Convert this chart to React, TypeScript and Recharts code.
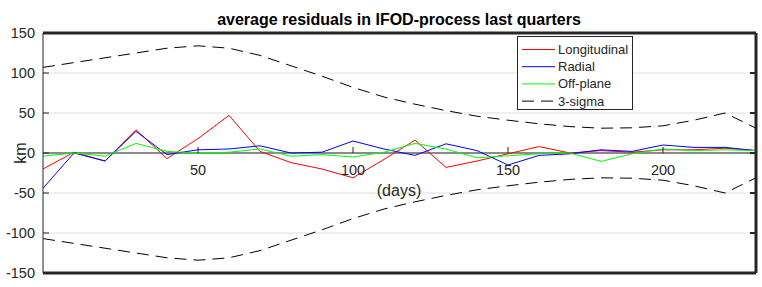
import { LineChart, Line, XAxis, YAxis, CartesianGrid, ReferenceLine, Legend } from 'recharts'

// values (km vs days)
const days = [0, 10, 20, 30, 40, 50, 60, 70, 80, 90, 100, 110, 120, 130, 140, 150, 160, 170, 180, 190, 200, 210, 220, 230]
const longitudinal = [-20, 1, -10, 29, -7, 18, 47, 2, -12, -20, -31, -8, 16, -18, -10, -1, 8, 0, 3, 1, 4, 4, 6, 3]
const radial = [-44, 0, -10, 27, -2, 4, 5, 9, 0, 1, 15, 5, -3, 11.5, 3, -15, -3, -1, 4, 2, 10, 7, 7, 3]
const offPlane = [-4, 0, -4, 12, 2, 0, 1, 5, -4, -2, -5, 1, 12, 5, -6, -3.5, -1, 0, -10.5, -1, 5, 3, 4, 3]
const sigmaUpper = [107, 113, 119, 125, 131, 134, 131, 122, 109, 96, 82, 70, 61, 53, 46, 41, 36.5, 33, 31, 31.5, 34, 41, 50, 31]
const sigmaLower = [-107, -113, -119, -125, -131, -134, -131, -122, -109, -96, -82, -70, -61, -53, -46, -41, -36.5, -33, -31, -31.5, -34, -41, -50, -31]

const yTicks = [-150, -100, -50, 0, 50, 100, 150]
const xTicks = [50, 100, 150, 200]
const xDomain = [0, 230]
const yDomain = [-150, 150]

const legendNames = ['Longitudinal', 'Radial', 'Off-plane', '3-sigma']
const legendColors = ['#ff0000', '#0000ff', '#00ff00', '#000']
const legendDashes = [undefined, undefined, undefined, '12 7']

const W = 762
const H = 287
const M = { top: 33, right: 5, bottom: 13, left: 0 }
const PLOT_H = 240
const AXIS = '#262626'
const FONT = '"Liberation Sans", Arial, Helvetica, sans-serif'

const data = days.map((d, i) => ({
  d,
  lon: longitudinal[i],
  rad: radial[i],
  off: offPlane[i],
  su: sigmaUpper[i],
  sl: sigmaLower[i],
}))

// x axis sits on y = 0 (matlab 'origin' style), so shift ticks up from the bottom edge
function ZeroAxisTick({ x, y, payload }: any) {
  const zy = y - PLOT_H / 2
  return (
    <g>
      <line x1={x} x2={x} y1={zy} y2={zy - 6} stroke={AXIS} />
      <text x={x} y={zy + 22} textAnchor="middle" fontSize={14.5} fill={AXIS}>
        {payload.value}
      </text>
    </g>
  )
}

const NoLabel = () => null

function LegendBox() {
  return (
    <svg width={116} height={74} style={{ display: 'block' }}>
      <rect x={0.5} y={0.5} width={115} height={73} fill="#fff" stroke={AXIS} />
      {legendNames.map((name, i) => {
        const cy = 13.5 + i * 17.2
        return (
          <g key={name}>
            <line x1={5} x2={38} y1={cy} y2={cy} stroke={legendColors[i]} strokeDasharray={legendDashes[i]} />
            <text x={41} y={cy + 4.5} fontSize={13} fill={AXIS}>{name}</text>
          </g>
        )
      })}
    </svg>
  )
}

export default function App() {
  return (
    <div style={{ position: 'absolute', left: 0, top: 0, width: W, height: H, fontFamily: FONT, background: '#fff' }}>
      <LineChart width={W} height={H} data={data} margin={M}>
        <CartesianGrid vertical={false} stroke="#dedede" />
        <XAxis
          dataKey="d"
          type="number"
          domain={xDomain}
          ticks={xTicks}
          height={1}
          tickSize={0}
          tickMargin={0}
          tickLine={false}
          axisLine={{ stroke: AXIS, strokeWidth: 3 }}
          tick={<ZeroAxisTick />}
          interval={0}
        />
        <YAxis
          domain={yDomain}
          ticks={yTicks}
          width={43}
          tickSize={-6}
          tickMargin={14}
          interval={0}
          axisLine={{ stroke: AXIS }}
          tickLine={{ stroke: AXIS }}
          tick={{ fontSize: 14.5, fill: AXIS }}
        />
        <YAxis
          yAxisId="r"
          orientation="right"
          domain={yDomain}
          ticks={yTicks}
          width={1}
          tickSize={-6}
          tick={<NoLabel />}
          interval={0}
          axisLine={{ stroke: AXIS, strokeWidth: 3 }}
          tickLine={{ stroke: AXIS, strokeWidth: 2 }}
        />
        <ReferenceLine y={0} stroke={AXIS} />
        <ReferenceLine y={150} stroke={AXIS} strokeWidth={3} ifOverflow="visible" />
        <Legend
          layout="vertical"
          align="center"
          verticalAlign="middle"
          content={<LegendBox />}
          wrapperStyle={{ left: 517, top: 36, width: 116, height: 74 }}
        />
        <Line name="Longitudinal" dataKey="lon" type="linear" stroke="#ff0000" strokeWidth={1} dot={false} isAnimationActive={false} />
        <Line name="Radial" dataKey="rad" type="linear" stroke="#0000ff" strokeWidth={1} dot={false} isAnimationActive={false} />
        <Line name="Off-plane" dataKey="off" type="linear" stroke="#00ff00" strokeWidth={1} dot={false} isAnimationActive={false} />
        <Line name="3-sigma" dataKey="su" type="linear" stroke="#000" strokeWidth={1} strokeDasharray="12 7" dot={false} isAnimationActive={false} />
        <Line name="3-sigma low" dataKey="sl" yAxisId="r" type="linear" stroke="#000" strokeWidth={1} strokeDasharray="12 7" dot={false} legendType="none" isAnimationActive={false} />
      </LineChart>
      <svg width={W} height={H} style={{ position: 'absolute', left: 0, top: 0, pointerEvents: 'none' }}>
        <text x={399} y={24.5} textAnchor="middle" fontSize={16} fontWeight="bold" fill="#000">
          average residuals in IFOD-process last quarters
        </text>
        <text x={26} y={153} textAnchor="middle" fontSize={16} fill={AXIS} transform="rotate(-90 26 153)">
          km
        </text>
        <text x={399} y={196} textAnchor="middle" fontSize={16} fill={AXIS}>
          (days)
        </text>
      </svg>
    </div>
  )
}
